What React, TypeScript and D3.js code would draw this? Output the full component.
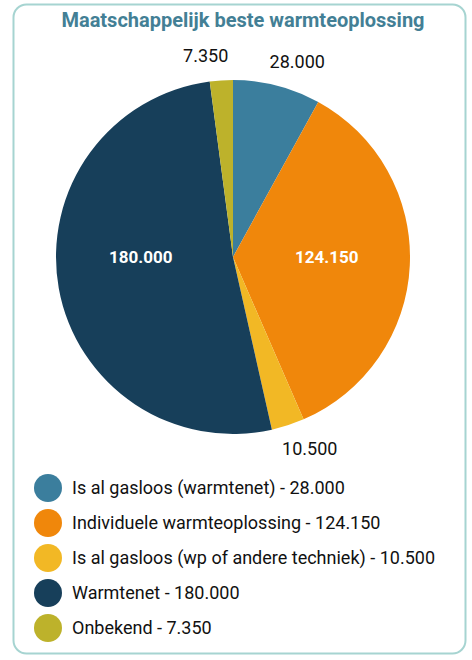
import React, { useEffect, useRef } from "react";
import * as d3 from "d3";

const categories = [
  "Is al gasloos (warmtenet)",
  "Individuele warmteoplossing",
  "Is al gasloos (wp of andere techniek)",
  "Warmtenet",
  "Onbekend",
];
const values = [28000, 124150, 10500, 180000, 7350];
const colors = ["#3b7e9d", "#f0870b", "#f2b825", "#173f5a", "#bdb22b"];
const title = "Maatschappelijk beste warmteoplossing";

const formatNl = (v: number) => d3.format(",")(v).replace(/,/g, ".");

export default function App() {
  const ref = useRef<SVGSVGElement>(null);

  useEffect(() => {
    if (!ref.current) return;
    const width = 472;
    const height = 660;
    const svg = d3.select(ref.current);
    svg.selectAll("*").remove();

    const font = "Roboto, 'Noto Sans', sans-serif";

    // card
    svg
      .append("rect")
      .attr("x", 13.5)
      .attr("y", 4.5)
      .attr("width", 452)
      .attr("height", 649)
      .attr("rx", 13)
      .attr("fill", "#fff")
      .attr("stroke", "#a6d4d1")
      .attr("stroke-width", 2);

    svg
      .append("text")
      .attr("x", 243)
      .attr("y", 27)
      .attr("text-anchor", "middle")
      .attr("font-family", font)
      .attr("font-size", 20)
      .attr("font-weight", "bold")
      .attr("fill", "#437f95")
      .text(title);

    const cx = 233;
    const cy = 257;
    const radius = 177;
    const total = d3.sum(values);

    const pie = d3
      .pie<number>()
      .sort(null)
      .value((d) => d);
    const arcs = pie(values);

    const arc = d3.arc<d3.PieArcDatum<number>>().innerRadius(0).outerRadius(radius);
    const g = svg.append("g").attr("transform", `translate(${cx},${cy})`);

    g.selectAll("path")
      .data(arcs)
      .join("path")
      .attr("d", arc)
      .attr("fill", (_, i) => colors[i]);

    const inner = d3
      .arc<d3.PieArcDatum<number>>()
      .innerRadius(radius * 0.53)
      .outerRadius(radius * 0.53);
    const outer = d3
      .arc<d3.PieArcDatum<number>>()
      .innerRadius(radius + 25)
      .outerRadius(radius + 25);

    arcs.forEach((a) => {
      const big = a.value / total > 0.2;
      if (big) {
        // big slices: label on the horizontal midline
        const [x] = inner.centroid(a);
        g.append("text")
          .attr("x", x)
          .attr("y", 0)
          .attr("dy", "0.35em")
          .attr("text-anchor", "middle")
          .attr("font-family", font)
          .attr("font-size", 17)
          .attr("font-weight", "bold")
          .attr("fill", "#fff")
          .text(formatNl(a.value));
      } else {
        // small slices: label outside, pushed outward horizontally
        const [x, y] = outer.centroid(a);
        g.append("text")
          .attr("x", x + Math.sign(x) * 14)
          .attr("y", y)
          .attr("dy", "0.35em")
          .attr("text-anchor", "middle")
          .attr("font-family", font)
          .attr("font-size", 18)
          .attr("fill", "#111")
          .text(formatNl(a.value));
      }
    });

    // legend
    const legendY = d3
      .scalePoint<string>()
      .domain(categories)
      .range([488, 628]);

    const item = svg
      .append("g")
      .selectAll("g")
      .data(categories)
      .join("g")
      .attr("transform", (d) => `translate(48,${legendY(d)})`);

    item
      .append("circle")
      .attr("r", 14)
      .attr("fill", (_, i) => colors[i]);

    item
      .append("text")
      .attr("x", 24)
      .attr("dy", "0.36em")
      .attr("font-family", font)
      .attr("font-size", 18)
      .attr("fill", "#111")
      .text((d, i) => `${d} - ${formatNl(values[i])}`);

    svg.attr("width", width).attr("height", height);
  }, []);

  return (
    <svg
      ref={ref}
      width={472}
      height={660}
      style={{ position: "absolute", left: 0, top: 0, background: "#fff" }}
    />
  );
}
